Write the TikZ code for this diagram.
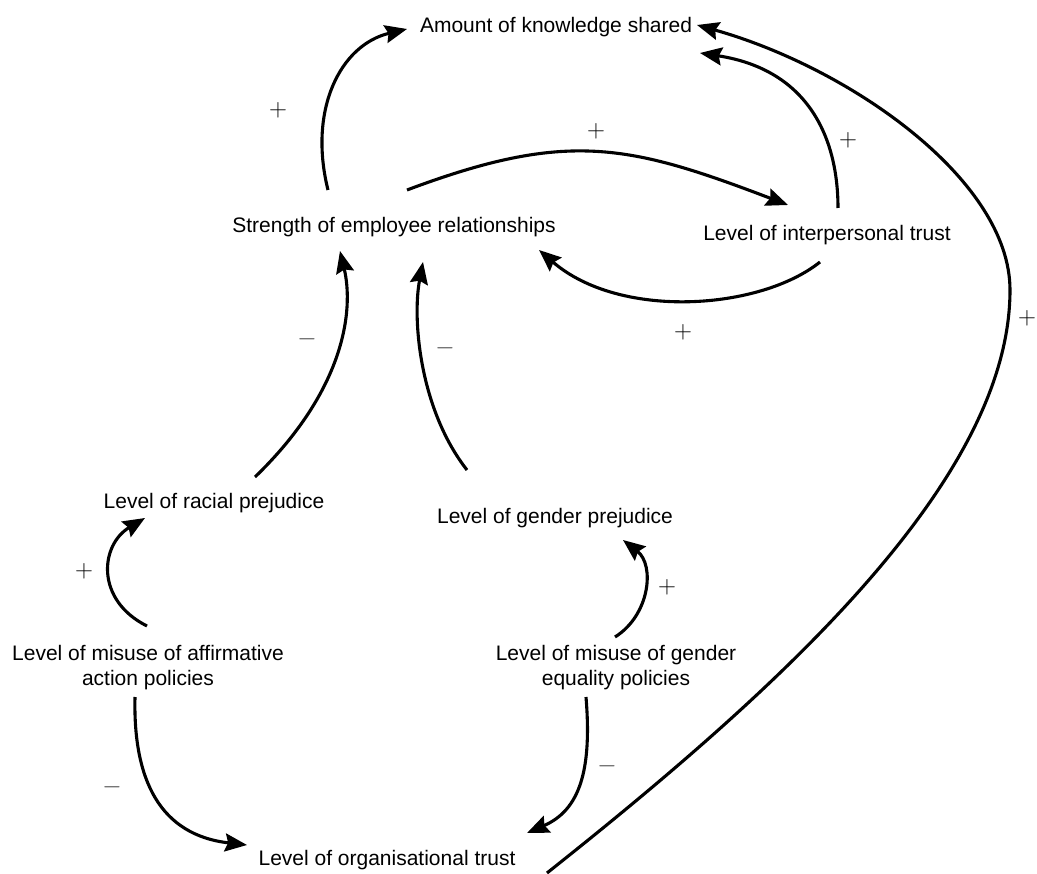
\documentclass[tikz,border=0pt]{standalone}
\usepackage{fontspec}
\setmainfont{Liberation Sans}
\usetikzlibrary{arrows.meta,calc}
\begin{document}
\begin{tikzpicture}[x=1pt,y=-1pt,
  var/.style={inner sep=0pt,align=center,font=\fontsize{21}{25}\selectfont},
  link/.style={line width=3.1pt,-{Stealth[length=22pt,width=18pt,inset=3pt]}},
  plussign/.style={inner sep=0pt,font=\fontsize{23}{23}\selectfont},
  minussign/.style={inner sep=0pt,text=black!75,font=\fontsize{23}{23}\selectfont}]
\useasboundingbox (0,0) rectangle (1037,874);

% variables
\node[var] (A)  at (556,27)  {Amount of knowledge shared};
\node[var] (S)  at (394,227) {Strength of employee relationships};
\node[var] (I)  at (827,235) {Level of interpersonal trust};
\node[var] (R)  at (214,503) {Level of racial prejudice};
\node[var] (G)  at (555,518) {Level of gender prejudice};
\node[var] (MA) at (148,668) {Level of misuse of affirmative\\action policies};
\node[var] (ME) at (616,668) {Level of misuse of gender\\equality policies};
\node[var] (O)  at (387,860) {Level of organisational trust};

% causal links
\draw[link] ($(S)+(-66,-37)$) .. controls (308,110) and (340,45) .. ($(A)+(-149,2)$);
\draw[link] ($(S)+(13,-37)$) .. controls (567,130) and (628,144) .. ($(I)+(-39,-30)$);
\draw[link] ($(I)+(11,-27)$) .. controls (838,140) and (810,70) .. ($(A)+(144,26)$);
\draw[link] ($(I)+(-7,27)$) .. controls (760,310) and (620,320) .. ($(S)+(145,23)$);
\draw[link] ($(O)+(160,13)$) .. controls (780,688) and (1010,480) .. (1010,290)
            .. controls (1010,180) and (850,68) .. ($(A)+(141,-2)$);
\draw[link] ($(R)+(41,-26)$) .. controls (345,390) and (354,310) .. ($(S)+(-54,24)$);
\draw[link] ($(G)+(-88,-48)$) .. controls (420,410) and (412,320) .. ($(S)+(29,35)$);
\draw[link] ($(MA)+(-1,-42)$) .. controls (95,600) and (100,545) .. ($(R)+(-69,15)$);
\draw[link] ($(ME)+(-1,-31)$) .. controls (650,615) and (655,565) .. ($(G)+(68,22)$);
\draw[link] ($(MA)+(-13,29)$) .. controls (133,780) and (160,835) .. ($(O)+(-140,-15)$);
\draw[link] ($(ME)+(-30,29)$) .. controls (592,770) and (580,810) .. ($(O)+(140,-27)$);

% polarity signs
\node[plussign] (p1) at (278,110) {$+$};
\node[plussign] (p2) at (596,131) {$+$};
\node[plussign] (p3) at (848,140) {$+$};
\node[plussign] (p4) at (683,332) {$+$};
\node[plussign] (p5) at (1027,318) {$+$};
\node[minussign] (n1) at (307,339) {$-$};
\node[minussign] (n2) at (445,348) {$-$};
\node[plussign] (p6) at (84,571)  {$+$};
\node[plussign] (p7) at (667,587) {$+$};
\node[minussign] (n3) at (112,787) {$-$};
\node[minussign] (n4) at (607,766) {$-$};
\end{tikzpicture}
\end{document}
